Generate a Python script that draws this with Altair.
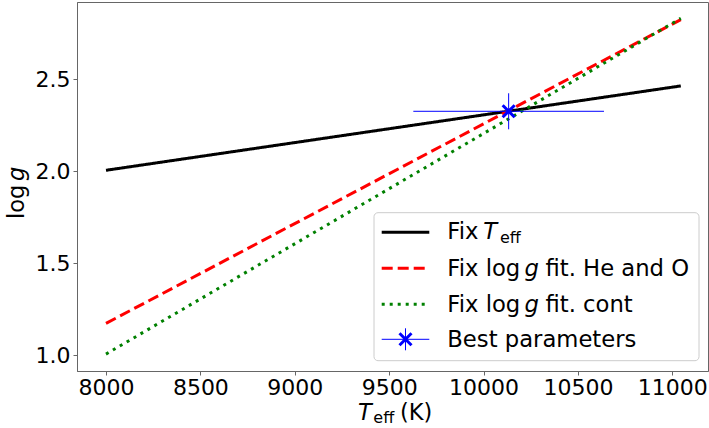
import altair as alt
import pandas as pd

# ---------------- data ----------------
teff_ends = [8000, 11045]
logg_fix_teff = [2.005, 2.464]
logg_fit_he_o = [1.172, 2.825]
logg_fit_cont = [1.005, 2.832]
series_names = ["Fix Teff", "Fix log g fit. He and O", "Fix log g fit. cont"]
series_colors = ["#000000", "#ff0000", "#008000"]

best_teff = [10133]
best_logg = [2.326]
best_teff_err = [505]
best_logg_err = [0.098]

x_ticks = [8000, 8500, 9000, 9500, 10000, 10500, 11000]
y_ticks = [1.0, 1.5, 2.0, 2.5]
x_domain = [7846.4, 11189]
y_domain = [0.913, 2.9206]

FONT = "DejaVu Sans"
BLUE = "#0000ff"
LEG_FS = 22.7

rows = []
for name, vals in zip(series_names, [logg_fix_teff, logg_fit_he_o, logg_fit_cont]):
    for t, g in zip(teff_ends, vals):
        rows.append({"series": name, "teff": t, "logg": g})
lines_df = pd.DataFrame(rows)

best_df = pd.DataFrame({
    "teff": best_teff,
    "logg": best_logg,
    "xlo": [t - e for t, e in zip(best_teff, best_teff_err)],
    "xhi": [t + e for t, e in zip(best_teff, best_teff_err)],
    "ylo": [g - e for g, e in zip(best_logg, best_logg_err)],
    "yhi": [g + e for g, e in zip(best_logg, best_logg_err)],
})

xs = alt.Scale(domain=x_domain, nice=False, zero=False)
ys = alt.Scale(domain=y_domain, nice=False, zero=False)
xax = alt.Axis(values=x_ticks, format="d", title=None, grid=False, tickSize=4,
               labelPadding=2, labelFlush=False, labelOverlap=False)
yax = alt.Axis(values=y_ticks, format=".1f", title=None, grid=False, tickSize=4,
               labelPadding=3, labelFlush=False, labelOverlap=False)

lines = alt.Chart(lines_df).mark_line(strokeWidth=3).encode(
    x=alt.X("teff:Q", scale=xs, axis=xax),
    y=alt.Y("logg:Q", scale=ys, axis=yax),
    color=alt.Color("series:N", scale=alt.Scale(domain=series_names, range=series_colors), legend=None),
    strokeDash=alt.StrokeDash("series:N", scale=alt.Scale(domain=series_names,
                                                          range=[[1, 0], [11, 5], [3, 5]]), legend=None),
    detail="series:N",
)

xerr = alt.Chart(best_df).mark_rule(color=BLUE, strokeWidth=1).encode(
    x=alt.X("xlo:Q", scale=xs, axis=xax), x2="xhi:Q", y=alt.Y("logg:Q", scale=ys, axis=yax))
yerr = alt.Chart(best_df).mark_rule(color=BLUE, strokeWidth=1).encode(
    x=alt.X("teff:Q", scale=xs, axis=xax), y=alt.Y("ylo:Q", scale=ys, axis=yax), y2="yhi:Q")
XSHAPE = "M-1,-1L1,1M-1,1L1,-1"
marker = alt.Chart(best_df).mark_point(shape=XSHAPE, size=144, stroke=BLUE, strokeWidth=3,
                                       filled=False, opacity=1).encode(
    x=alt.X("teff:Q", scale=xs, axis=xax), y=alt.Y("logg:Q", scale=ys, axis=yax))

one = alt.Data(values=[{"a": 1}])


def txt(t, x, y, size=22, style="normal", angle=0, align="left"):
    return alt.Chart(one).mark_text(text=t, font=FONT, fontSize=size, fontStyle=style,
                                    align=align, baseline="alphabetic", angle=angle,
                                    color="black").encode(x=alt.value(x), y=alt.value(y))


# legend box
leg_box = alt.Chart(one).mark_rect(fill="white", fillOpacity=0.8, stroke="#cccccc",
                                   strokeWidth=1, cornerRadius=4).encode(
    x=alt.value(297), x2=alt.value(622), y=alt.value(210.7), y2=alt.value(358.7))

sw_x0, sw_x1 = 304.7, 352.3
row_y = [230.3, 266.3, 302.3, 337.3]
swatches = []
for i, (c, d) in enumerate(zip(series_colors, [[1, 0], [11, 5], [3, 5]])):
    swatches.append(alt.Chart(one).mark_rule(color=c, strokeWidth=3, strokeDash=d).encode(
        x=alt.value(sw_x0), x2=alt.value(sw_x1), y=alt.value(row_y[i])))
sw_mid = (sw_x0 + sw_x1) / 2
swatches.append(alt.Chart(one).mark_rule(color=BLUE, strokeWidth=1).encode(
    x=alt.value(sw_x0), x2=alt.value(sw_x1), y=alt.value(row_y[3])))
swatches.append(alt.Chart(one).mark_rule(color=BLUE, strokeWidth=1).encode(
    x=alt.value(sw_mid), y=alt.value(row_y[3] - 11), y2=alt.value(row_y[3] + 11)))
swatches.append(alt.Chart(one).mark_point(shape=XSHAPE, size=144, stroke=BLUE, strokeWidth=3,
                                          filled=False, opacity=1).encode(
    x=alt.value(sw_mid), y=alt.value(row_y[3])))

tx = 370.3
base = [237.3, 273.7, 309.7, 344.7]
texts = [
    txt("Fix", tx, base[0], size=LEG_FS),
    txt("T", 406.3, base[0], size=LEG_FS, style="italic"),
    txt("eff", 423, base[0] + 4, size=16),
    txt("Fix log", tx, base[1], size=LEG_FS),
    txt("g", 447.5, base[1], size=LEG_FS, style="italic"),
    txt("fit. He and O", 468.5, base[1], size=LEG_FS),
    txt("Fix log", tx, base[2], size=LEG_FS),
    txt("g", 447.5, base[2], size=LEG_FS, style="italic"),
    txt("fit. cont", 468.5, base[2], size=LEG_FS),
    txt("Best parameters", tx, base[3], size=LEG_FS),
    # axis titles
    txt("T", 281, 418, size=22.5, style="italic"),
    txt("eff", 296.3, 421.3, size=16),
    txt("(K)", 323, 418, size=22.5),
    txt("log", -53, 217, size=22.5, angle=270),
    txt("g", -53, 179, size=22.5, angle=270, style="italic"),
]

chart = alt.layer(lines, xerr, yerr, marker, leg_box, *swatches, *texts).properties(
    width=631, height=369,
    autosize=alt.AutoSizeParams(type="none"),
    padding={"left": 77, "top": 2, "right": 1, "bottom": 57},
).configure_axis(
    labelFont=FONT, labelFontSize=22, labelColor="black",
    domainColor="#666666", tickColor="#666666", domainWidth=1, tickWidth=1,
).configure_view(stroke="#666666", strokeWidth=1)

chart.save("out.html", embed_options={"renderer": "svg", "actions": False})
